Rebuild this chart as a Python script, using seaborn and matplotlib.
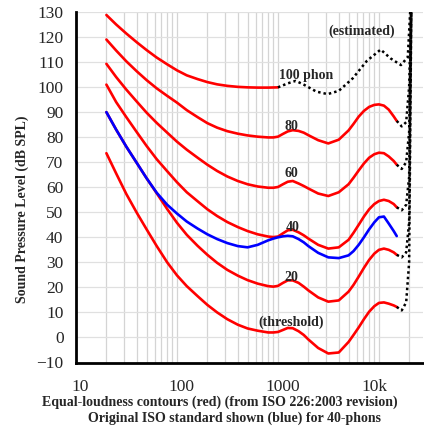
import numpy as np
import pandas as pd
import seaborn as sns
import matplotlib
matplotlib.use("Agg")
import matplotlib.pyplot as plt
import matplotlib.transforms as mtransforms
from matplotlib.ticker import FixedLocator, NullFormatter, LogLocator

# frequencies (Hz) of the solid red contours
freqs = [20, 25, 31.5, 40, 50, 63, 80, 100, 125, 160, 200, 250, 315, 400, 500,
         630, 800, 900, 1000, 1120, 1250, 1400, 1600, 1800, 2000, 2500, 3150,
         4000, 5000, 5600, 6300, 7100, 8000, 9000, 10000, 11200, 12500, 14000, 15000]

threshold = [73.6, 65.5, 57.3, 49.8, 43.2, 36.5, 30, 24.8, 20.5, 16.5, 13, 10, 7.3, 5.1, 3.6,
             2.7, 2.0, 2.0, 2.2, 3.0, 3.8, 3.7, 2.5, 1.0, -0.8, -4.2, -6.4,
             -6, -1.8, 1, 4, 7.3, 10.3, 12.5, 13.8, 14, 13.5, 12.8, 12.2]
phon20 = [90, 83, 76.2, 69.7, 63.6, 57.6, 51.3, 45.8, 41, 36.6, 33, 29.8, 27, 24.7, 22.9,
          21.5, 20.5, 20.3, 20.6, 21.8, 22.8, 22.8, 21.8, 20.3, 18.8, 16, 14.3,
          14.8, 18.3, 21, 24.3, 27.8, 31, 33.5, 35, 35.5, 35, 34, 33]
phon40 = [101, 94, 88, 82, 76.5, 71.2, 66.4, 62, 58, 54.4, 51.2, 48.5, 46.1, 44.1, 42.5,
          41.2, 40.3, 40.1, 40.3, 41.6, 42.8, 43, 42, 40.8, 39.5, 37, 35.5,
          36, 39, 41.8, 45, 48.3, 51.2, 53.3, 54.5, 55, 54.5, 53.3, 52]
phon60 = [109.3, 104, 99, 94.2, 89.8, 85.7, 81.8, 78.2, 75, 71.8, 69, 66.5, 64.3, 62.5, 61.2,
          60.3, 59.8, 59.8, 60.1, 61.2, 62.2, 62.5, 61.5, 60.5, 59.5, 57.5, 56.5,
          58, 61.2, 63.8, 66.7, 69.5, 71.8, 73.2, 73.8, 73.6, 72.3, 70.5, 69]
phon80 = [119, 114.6, 110.3, 106.3, 102.8, 99.5, 96.5, 93.8, 90.8, 88, 85.6, 83.8, 82.4, 81.4, 80.7,
          80.2, 79.9, 79.9, 80.2, 81.3, 82.3, 82.8, 82.5, 81.8, 80.8, 78.8, 77.5,
          79, 82.7, 85.3, 88.2, 90.5, 92.1, 92.9, 93.1, 92.6, 91, 88.3, 86.5]
# original ISO 40 phon curve (blue)
iso40_orig = [90, 83, 76.2, 69.7, 63.6, 57.8, 53, 49.5, 46.3, 43.5, 41.2, 39.3, 37.7, 36.5, 36,
              37, 38.8, 39.5, 40, 40.4, 40.6, 40.4, 39.3, 38, 36.5, 33.8, 32,
              31.7, 32.8, 34.5, 37, 40, 43.2, 46, 48, 48.3, 45.5, 42.5, 40.5]

# 100 phon: solid part up to 1 kHz, dotted estimate above
freqs100 = [20, 25, 31.5, 40, 50, 63, 80, 100, 125, 160, 200, 250, 315, 400, 500,
            630, 800, 1000]
phon100 = [128.8, 125, 121.4, 117.9, 114.8, 111.8, 109.1, 106.7, 104.7, 103.2, 102, 101.1,
           100.5, 100.1, 99.9, 99.8, 99.8, 99.9]
freqs100_est = [1000, 1250, 1500, 1800, 2400, 3100, 4000, 5500, 7600, 10400, 13000,
                16500, 19300, 21000]
phon100_est = [99.9, 101.5, 102.5, 101, 98.2, 97.2, 98.5, 103.5, 110.5, 115, 111.5,
               108.8, 112, 140]

# dotted tails of the lower contours
tail_freqs = [15000, 16800, 18600, 19900, 21000]
tail_threshold = [12.2, 10.8, 14, 30, 140]
tail_20 = [33, 32, 34, 46, 140]
tail_40 = [52, 50.8, 53, 64, 140]
tail_60 = [69, 67.3, 70, 82, 140]
tail_80 = [86.5, 84.3, 86, 100, 140]

labels = [("(estimated)", 6790, 122.4), ("100 phon", 1915, 104.8), ("80", 1345, 84.3),
          ("60", 1365, 65.5), ("40", 1390, 44.1), ("20", 1345, 23.9),
          ("(threshold)", 1340, 5.9)]

x_ticks = [10, 100, 1000, 10000]
x_ticklabels = ["10", "100", "1000", "10k"]

sns.set_style("white")
plt.rcParams['font.family'] = ['Liberation Serif', 'DejaVu Serif']

fig = plt.figure(figsize=(4.24, 4.37), dpi=100)
ax = fig.add_axes([76 / 424, 74.5 / 437, 347 / 424, 350.5 / 437])

line_kw = dict(lw=1.9, sort=False, ax=ax, solid_joinstyle="round", solid_capstyle="round")
for vals in [threshold, phon20, phon40, phon60, phon80]:
    sns.lineplot(x=freqs, y=vals, color="#ff0000", **line_kw)
sns.lineplot(x=freqs100, y=phon100, color="#ff0000", **line_kw)
sns.lineplot(x=freqs, y=iso40_orig, color="#0000ff", **line_kw)

for tail in [tail_threshold, tail_20, tail_40, tail_60, tail_80]:
    sns.lineplot(x=tail_freqs, y=tail, color="black", lw=1.8, sort=False, ax=ax,
                 linestyle=(0, (1, 1.2)))
sns.lineplot(x=freqs100_est, y=phon100_est, color="black", lw=1.8, sort=False, ax=ax,
             linestyle=(0, (1, 1.2)))

ax.set_xscale("log")
ax.set_xlim(10, 27300)
ax.set_ylim(-10, 130)
ax.xaxis.set_major_locator(FixedLocator(x_ticks))
ax.set_xticklabels(x_ticklabels)
ax.xaxis.set_minor_locator(LogLocator(base=10, subs=np.arange(2, 10)))
ax.xaxis.set_minor_formatter(NullFormatter())
ax.set_yticks(np.arange(-10, 131, 10))
ax.grid(True, which="both", axis="x", color="#d4d4d4", lw=0.9)
ax.grid(True, which="major", axis="y", color="#e0e0e0", lw=0.9)
ax.tick_params(axis="both", which="both", length=0, labelsize=12.5)
ax.tick_params(axis="x", pad=12)
ax.tick_params(axis="y", pad=9)
# the original tick texts sit a little off their gridlines
for lab, dx in zip(ax.get_xticklabels(), [4, 4.5, 5, -5]):
    lab.set_transform(lab.get_transform() +
                      mtransforms.ScaledTranslation(dx / 100, 0, fig.dpi_scale_trans))
for s in ["top", "right"]:
    ax.spines[s].set_visible(False)
for s in ["left", "bottom"]:
    ax.spines[s].set_color("black")
    ax.spines[s].set_linewidth(2)
ax.set_xlabel("")
ax.set_ylabel("")

for txt, fx, fy in labels:
    ax.text(fx, fy, txt, ha="center", va="center", fontsize=10, fontweight="bold")

fig.text(22 / 424, 1 - 209 / 437, "Sound Pressure Level (dB SPL)", rotation=90,
         ha="center", va="center", fontsize=10, fontweight="bold")
fig.text(219.5 / 424, 1 - 402.7 / 437,
         "Equal-loudness contours (red) (from ISO 226:2003 revision)",
         ha="center", va="center", fontsize=10, fontweight="bold")
fig.text(235 / 424, 1 - 418 / 437, "Original ISO standard shown (blue) for 40-phons",
         ha="center", va="center", fontsize=10, fontweight="bold")

fig.savefig("out.png", dpi=100)
